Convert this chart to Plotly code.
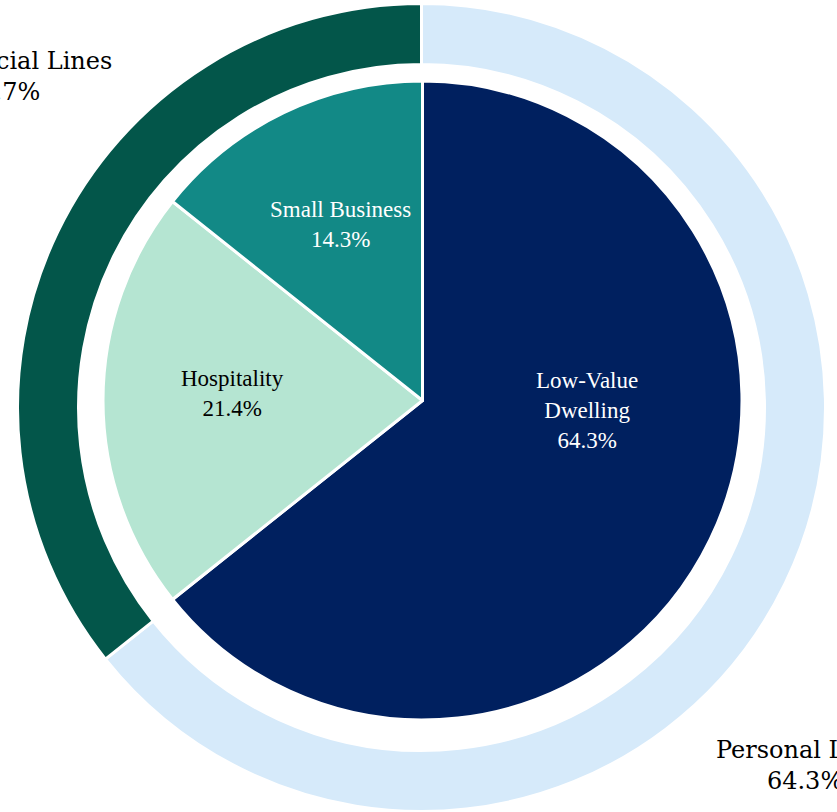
import plotly.graph_objects as go

# Inner pie (segments)
segment_names = ["Low-Value Dwelling", "Hospitality", "Small Business"]
segment_display = ["Low-Value<br>Dwelling", "Hospitality", "Small Business"]
segment_values = [64.3, 21.4, 14.3]
segment_colors = ["#00205F", "#B5E5D2", "#128986"]
segment_text_colors = ["#FFFFFF", "#000000", "#FFFFFF"]

# Outer ring (lines of business)
line_names = ["Personal Lines", "Commercial Lines"]
line_values = [64.3, 35.7]
line_colors = ["#D6EAFA", "#03564A"]

W, H = 837, 812

fig = go.Figure()

fig.add_trace(go.Pie(
    labels=line_names,
    values=line_values,
    sort=False,
    direction="clockwise",
    rotation=0,
    hole=0.849,
    textinfo="none",
    marker=dict(colors=line_colors, line=dict(color="white", width=3)),
    domain=dict(x=[17.5 / W, 825.5 / W], y=[0.5 / H, 808.5 / H]),
    showlegend=False,
    hoverinfo="label+percent",
))

fig.add_trace(go.Pie(
    labels=segment_names,
    values=segment_values,
    sort=False,
    direction="clockwise",
    rotation=0,
    textinfo="none",
    marker=dict(colors=segment_colors, line=dict(color="white", width=3)),
    domain=dict(x=[103 / W, 742 / W], y=[92 / H, 731 / H]),
    showlegend=False,
    hoverinfo="label+percent",
))

# Inner slice labels
total_seg = sum(segment_values)
inner_pos = [(587 / W, 1 - 410 / H), (233 / W, 1 - 393 / H), (340 / W, 1 - 224 / H)]
for disp, val, col, (x, y) in zip(segment_display, segment_values, segment_text_colors, inner_pos):
    fig.add_annotation(
        x=x, y=y, xref="paper", yref="paper",
        text=f"{disp}<br>{val / total_seg * 100:.1f}%",
        showarrow=False, xanchor="center", yanchor="middle", align="center",
        font=dict(family="Liberation Serif, Times New Roman, serif", size=23, color=col),
    )

# Outer ring labels
total_lines = sum(line_values)
outer_font = dict(family="DejaVu Serif, serif", size=24, color="#000000")
label_pos = {"Commercial Lines": (2 / W, 1 - 76 / H), "Personal Lines": (805 / W, 1 - 765 / H)}
for name, val in zip(line_names, line_values):
    x, y = label_pos[name]
    fig.add_annotation(
        x=x, y=y, xref="paper", yref="paper",
        text=f"{name}<br>{val / total_lines * 100:.1f}%",
        showarrow=False, xanchor="center", yanchor="middle", align="center",
        font=outer_font,
    )

fig.update_layout(
    width=W, height=H,
    margin=dict(l=0, r=0, t=0, b=0),
    paper_bgcolor="white",
    plot_bgcolor="white",
)

fig.write_html("out.html")
